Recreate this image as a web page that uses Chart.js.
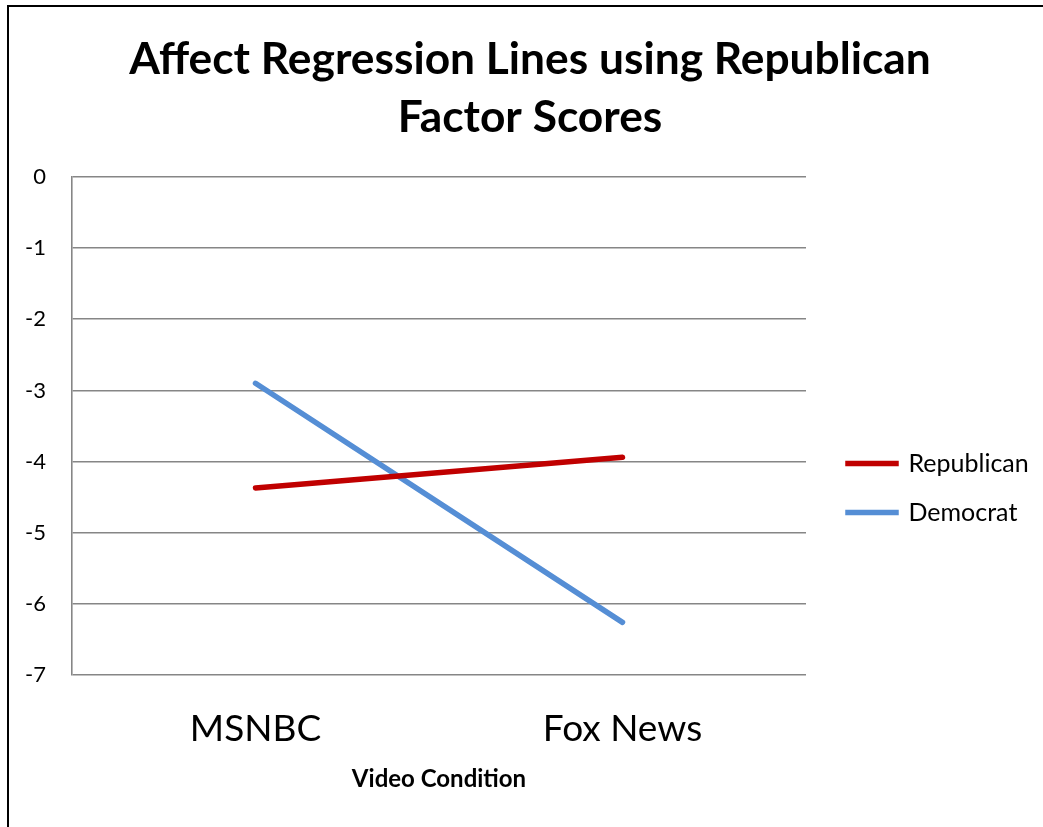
<!DOCTYPE html>
<html><head><meta charset="utf-8">
<script src="https://cdn.jsdelivr.net/npm/chart.js@4.4.0/dist/chart.umd.min.js"></script>
<style>html,body{margin:0;padding:0;background:#fff;overflow:hidden}#wrap{position:absolute;left:0;top:0;width:1043px;height:827px}</style>
</head><body><div id="wrap"><canvas id="c" width="1043" height="827"></canvas></div>
<script>
const categories = ['MSNBC', 'Fox News'];
const seriesNames = ['Republican', 'Democrat'];
const republican = [-4.37, -3.94];
const democrat = [-2.90, -6.26];
const yTicks = [0, -1, -2, -3, -4, -5, -6, -7];
const titleLines = ['Affect Regression Lines using Republican', 'Factor Scores'];
const xAxisTitle = 'Video Condition';
const seriesColors = ['#C00000', '#558ED5'];

const FONT = 'Lato, "Open Sans", sans-serif';
const W = 1043, H = 827;
const PLOT_LEFT = 72, PLOT_RIGHT = 806, PLOT_BOTTOM = 675;
const BOTTOM_PAD = 33;
const TITLE_CENTER = 530;

const frame = {
  id: 'frame',
  beforeDraw(chart) {
    const ctx = chart.ctx;
    ctx.save();
    ctx.fillStyle = '#fff';
    ctx.fillRect(0, 0, W, H);
    ctx.restore();
  },
  afterDraw(chart) {
    const ctx = chart.ctx;
    ctx.save();
    ctx.fillStyle = '#000';
    ctx.fillRect(7, 5, 2, H - 5);
    ctx.fillRect(7, 5, W - 7, 2);
    ctx.restore();
  }
};

const placer = {
  id: 'placer',
  afterLayout(chart) {
    const lg = chart.legend;
    if (lg) {
      const pad = lg.options.labels.padding;
      const fs = lg.options.labels.font.size;
      const dx = (chart.chartArea.right + 42) - (lg.left + pad);
      lg.left += dx; lg.right += dx;
      const dy = (463.5 - fs / 2 - pad) - lg.top;
      lg.top += dy; lg.bottom += dy;
    }
    const tb = chart.titleBlock;
    if (tb) {
      const half = Math.min(TITLE_CENTER, W - TITLE_CENTER);
      tb.left = TITLE_CENTER - half;
      tb.right = TITLE_CENTER + half;
      tb.width = 2 * half;
    }
  }
};

const chart = new Chart(document.getElementById('c'), {
  type: 'line',
  data: {
    labels: categories,
    datasets: [
      { label: seriesNames[0], data: republican, borderColor: seriesColors[0], backgroundColor: seriesColors[0] },
      { label: seriesNames[1], data: democrat, borderColor: seriesColors[1], backgroundColor: seriesColors[1] }
    ]
  },
  options: {
    responsive: false,
    animation: false,
    devicePixelRatio: 1,
    layout: { padding: { top: 1, left: 0, right: 0, bottom: BOTTOM_PAD } },
    elements: {
      line: { borderWidth: 5.5, borderCapStyle: 'round', tension: 0, fill: false },
      point: { radius: 0, hoverRadius: 0 }
    },
    plugins: {
      tooltip: { enabled: false },
      title: {
        display: true,
        text: titleLines,
        color: '#000',
        font: { family: FONT, size: 44.3, weight: 'bold', lineHeight: '58px' },
        padding: { top: 30, bottom: 30 }
      },
      legend: {
        display: true,
        position: 'right',
        align: 'start',
        labels: {
          color: '#000',
          font: { family: FONT, size: 25 },
          boxWidth: 48,
          boxHeight: 0.01,
          padding: 24
        }
      }
    },
    scales: {
      x: {
        type: 'category',
        offset: true,
        grid: { display: false, drawTicks: false },
        border: { display: false },
        ticks: { color: '#000', font: { family: FONT, size: 37 }, padding: 32, maxRotation: 0 },
        title: { display: true, text: xAxisTitle, color: '#000', font: { family: FONT, size: 24, weight: 'bold', lineHeight: 1.2 }, padding: 0 },
        afterFit(s) { s.height = H - BOTTOM_PAD - PLOT_BOTTOM; }
      },
      y: {
        min: -7, max: 0,
        afterBuildTicks(s) { s.ticks = yTicks.map(v => ({ value: v })); },
        grid: { color: '#868686', lineWidth: 1.6, drawTicks: false },
        border: { display: true, color: '#868686', width: 1.6 },
        ticks: { color: '#000', font: { family: FONT, size: 22 }, padding: 26 },
        afterFit(s) { s.width = PLOT_LEFT; }
      }
    }
  },
  plugins: [frame, placer]
});

const extra = Math.max(0, W - PLOT_RIGHT - chart.legend.width);
chart.options.layout.padding.right = extra;
chart.update('none');
</script></body></html>
